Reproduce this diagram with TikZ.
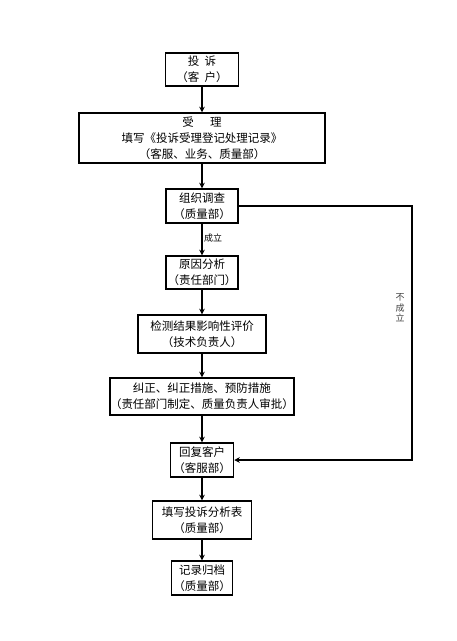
\documentclass[tikz,border=0pt]{standalone}
\usepackage{fontspec}
\setmainfont{Noto Sans CJK SC}
\usepackage{tikz}
\usetikzlibrary{arrows.meta}
\tikzset{box/.style={draw, line width=1.5pt, align=center, inner sep=0pt,
   font=\fontsize{11.5}{16}\selectfont},
 flow/.style={line width=1.5pt, -{Stealth[length=5.5pt,width=5.5pt]}},
 note/.style={font=\fontsize{9}{10.5}\selectfont, inner sep=0pt, align=center},
 }

\begin{document}
\begin{tikzpicture}[x=1pt, y=-1pt]
        \useasboundingbox (0, 0) rectangle (457, 641);
        \node[box, minimum width=73pt, minimum height=33pt] (tousu) at (202, 69.5) {投\ \ 诉\\（客\ \ 户）};
        \node[box, minimum width=246pt, minimum height=50pt] (shouli) at (202, 138) {受\hspace{1.4em}理\\填写《投诉受理登记处理记录》\\（客服、业务、质量部）};
        \node[box, minimum width=72pt, minimum height=34pt] (diaocha) at (202, 206) {组织调查\\（质量部）};
        \node[box, minimum width=72pt, minimum height=33pt] (yuanyin) at (202, 272.5) {原因分析\\（责任部门）};
        \node[box, minimum width=128pt, minimum height=38pt] (jiance) at (202, 334) {检测结果影响性评价\\（技术负责人）};
        \node[box, minimum width=184pt, minimum height=37pt] (jiuzheng) at (202, 396.5) {纠正、纠正措施、预防措施\\（责任部门制定、质量负责人审批）};
        \node[box, minimum width=63pt, minimum height=34pt] (huifu) at (202, 460) {回复客户\\（客服部）};
        \node[box, minimum width=99pt, minimum height=38pt] (fenxi) at (202, 520) {填写投诉分析表\\（质量部）};
        \node[box, minimum width=61pt, minimum height=34pt] (guidang) at (202, 578) {记录归档\\（质量部）};
        \node[note] (chengli) at (213, 238) {成立};
        \node[note, text=black!75] (bucheng) at (400, 308) {不\\成\\立};
        \coordinate (loopa) at (412, 206);
        \coordinate (loopb) at (412, 460);
        \draw[flow] (tousu) -- (shouli);
        \draw[flow] (shouli) -- (diaocha);
        \draw[flow] (diaocha) -- (yuanyin);
        \draw[flow] (yuanyin) -- (jiance);
        \draw[flow] (jiance) -- (jiuzheng);
        \draw[flow] (jiuzheng) -- (huifu);
        \draw[flow] (huifu) -- (fenxi);
        \draw[flow] (fenxi) -- (guidang);
        \draw[flow, line width=1.1pt] (diaocha.east) -- (loopa) -- (loopb) -- (huifu.east);
    \end{tikzpicture}
\end{document}
